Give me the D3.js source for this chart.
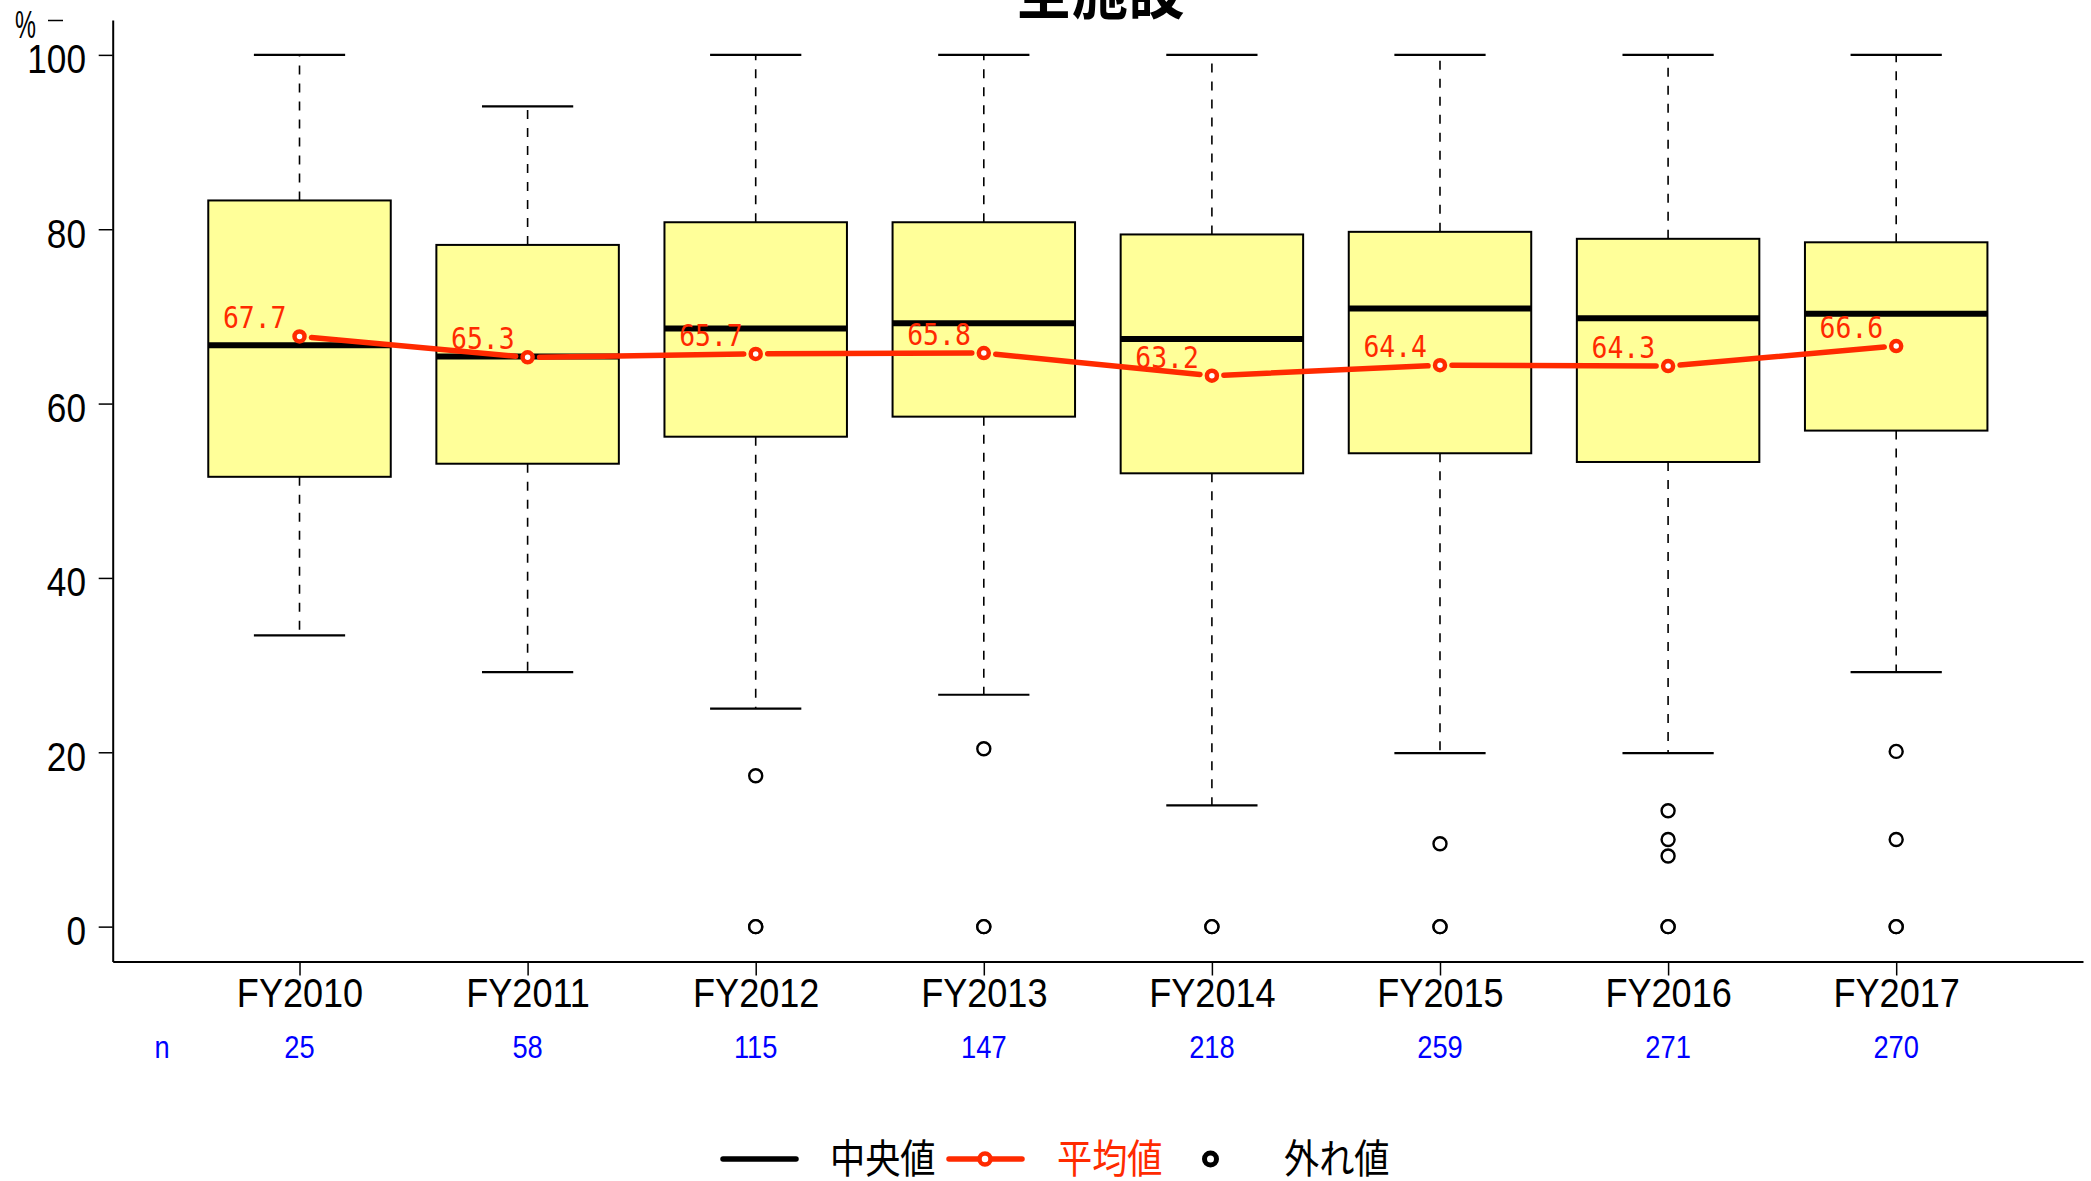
<!DOCTYPE html>
<html>
<head>
<meta charset="utf-8">
<script src="https://cdn.jsdelivr.net/npm/d3@7"></script>
<style>
  html, body { margin: 0; padding: 0; background: #fff; overflow: hidden; }
  svg { display: block; }
</style>
</head>
<body>
<svg id="chart" width="2091" height="1181"></svg>
<script>
// ---- data ----
const categories = ["FY2010", "FY2011", "FY2012", "FY2013", "FY2014", "FY2015", "FY2016", "FY2017"];
const whiskerHigh = [100, 94.1, 100, 100, 100, 100, 100, 100];
const q3Values = [83.3, 78.2, 80.8, 80.8, 79.4, 79.7, 78.9, 78.5];
const medians = [66.7, 65.4, 68.6, 69.2, 67.4, 70.9, 69.8, 70.3];
const q1Values = [51.6, 53.1, 56.2, 58.5, 52.0, 54.3, 53.3, 56.9];
const whiskerLow = [33.4, 29.2, 25.0, 26.6, 13.9, 19.9, 19.9, 29.2];
const means = [67.7, 65.3, 65.7, 65.8, 63.2, 64.4, 64.3, 66.6];
const counts = [25, 58, 115, 147, 218, 259, 271, 270];
const outliers = [[], [], [17.3, 0, 0], [20.4, 0, 0], [0, 0], [9.5, 0, 0], [13.3, 10.0, 8.1, 0, 0], [20.1, 10.0, 0, 0]];
const yTicks = [0, 20, 40, 60, 80, 100];
const title = "全施設";
const legendLabels = ["中央値", "平均値", "外れ値"];

// ---- styles ----
const SX = 0.88; // horizontal condensation of text
const RED = "#ff2a00";
const BOXFILL = "#ffff99";
const SANS = "'Liberation Sans', Arial, sans-serif";
const CJK = "'Noto Sans CJK JP', 'Noto Sans CJK SC', sans-serif";
const MONO = "'DejaVu Sans Mono', monospace";

const svg = d3.select("#chart");

const x = d3.scalePoint().domain(categories).range([112.7, 2083]).padding(0.819);
const y = d3.scaleLinear().domain([-4, 104]).range([961.5, 20]);
const step = x.step();
const boxW = step * 0.8;
const capW = boxW * 0.5;

function place(sel, px, py, sx = SX) {
  return sel.attr("transform", `translate(${px},${py}) scale(${sx},1)`);
}

// title (clipped at top)
place(svg.append("text"), 1100, 13)
  .attr("text-anchor", "middle")
  .attr("font-family", CJK).attr("font-weight", "bold").attr("font-size", 64)
  .attr("fill", "#000").text(title);

// y axis
const yAxis = d3.axisLeft(y).tickValues(yTicks).tickSize(14).tickSizeOuter(0).tickFormat(d3.format("d"));
const gy = svg.append("g").attr("transform", "translate(112.7,0)").call(yAxis);
gy.select(".domain").attr("stroke", "#000").attr("stroke-width", 2);
gy.selectAll(".tick line").attr("stroke", "#000").attr("stroke-width", 1.5);
gy.selectAll(".tick text")
  .attr("x", -26.7 / SX).attr("y", 18).attr("dy", null)
  .attr("transform", `scale(${SX},1)`)
  .attr("font-family", SANS).attr("font-size", 40).attr("fill", "#000");

// % unit label and small mark
place(svg.append("text"), 15, 38, 0.62)
  .attr("font-family", SANS).attr("font-size", 38).attr("fill", "#000").text("%");
svg.append("line").attr("x1", 48).attr("x2", 63).attr("y1", 20.5).attr("y2", 20.5)
  .attr("stroke", "#000").attr("stroke-width", 1.5);

// x axis
const xAxis = d3.axisBottom(x).tickSize(14).tickSizeOuter(0);
const gx = svg.append("g").attr("transform", `translate(0,${y(-4)})`).call(xAxis);
gx.select(".domain").attr("stroke", "#000").attr("stroke-width", 2);
gx.selectAll(".tick line").attr("stroke", "#000").attr("stroke-width", 1.5);
gx.selectAll(".tick text")
  .attr("y", 46).attr("dy", null)
  .attr("transform", `scale(${SX},1)`)
  .attr("font-family", SANS).attr("font-size", 41).attr("fill", "#000");

// n row
place(svg.append("text"), 162, 1058)
  .attr("text-anchor", "middle").attr("font-family", SANS).attr("font-size", 31)
  .attr("fill", "#0000ff").text("n");
categories.forEach((c, i) => {
  place(svg.append("text"), x(c), 1058)
    .attr("text-anchor", "middle").attr("font-family", SANS).attr("font-size", 31)
    .attr("fill", "#0000ff").text(counts[i]);
});

// boxplots
const gb = svg.append("g");
categories.forEach((c, i) => {
  const cx = x(c);
  // whiskers (dashed)
  gb.append("line").attr("x1", cx).attr("x2", cx).attr("y1", y(q3Values[i])).attr("y2", y(whiskerHigh[i]))
    .attr("stroke", "#000").attr("stroke-width", 1.6).attr("stroke-dasharray", "9,9");
  gb.append("line").attr("x1", cx).attr("x2", cx).attr("y1", y(q1Values[i])).attr("y2", y(whiskerLow[i]))
    .attr("stroke", "#000").attr("stroke-width", 1.6).attr("stroke-dasharray", "9,9");
  // caps
  [whiskerHigh[i], whiskerLow[i]].forEach(v => {
    gb.append("line").attr("x1", cx - capW / 2).attr("x2", cx + capW / 2).attr("y1", y(v)).attr("y2", y(v))
      .attr("stroke", "#000").attr("stroke-width", 2.2);
  });
  // box
  gb.append("rect").attr("x", cx - boxW / 2).attr("width", boxW)
    .attr("y", y(q3Values[i])).attr("height", y(q1Values[i]) - y(q3Values[i]))
    .attr("fill", BOXFILL).attr("stroke", "#000").attr("stroke-width", 2);
  // median
  gb.append("line").attr("x1", cx - boxW / 2).attr("x2", cx + boxW / 2)
    .attr("y1", y(medians[i])).attr("y2", y(medians[i]))
    .attr("stroke", "#000").attr("stroke-width", 6);
  // outliers
  outliers[i].forEach(v => {
    gb.append("circle").attr("cx", cx).attr("cy", y(v)).attr("r", 6.5)
      .attr("fill", "#fff").attr("stroke", "#000").attr("stroke-width", 2.4);
  });
});

// mean line (type "b": segments with gaps around points)
const gm = svg.append("g");
const gap = 12;
for (let i = 0; i < categories.length - 1; i++) {
  const x1 = x(categories[i]), y1 = y(means[i]);
  const x2 = x(categories[i + 1]), y2 = y(means[i + 1]);
  const len = Math.hypot(x2 - x1, y2 - y1);
  const ux = (x2 - x1) / len, uy = (y2 - y1) / len;
  gm.append("line")
    .attr("x1", x1 + ux * gap).attr("y1", y1 + uy * gap)
    .attr("x2", x2 - ux * gap).attr("y2", y2 - uy * gap)
    .attr("stroke", RED).attr("stroke-width", 5.5).attr("stroke-linecap", "round");
}
categories.forEach((c, i) => {
  gm.append("circle").attr("cx", x(c)).attr("cy", y(means[i])).attr("r", 5)
    .attr("fill", "#fff").attr("stroke", RED).attr("stroke-width", 4.5);
  place(gm.append("text"), x(c) - 13, y(means[i]) - 8)
    .attr("text-anchor", "end").attr("font-family", MONO).attr("font-size", 30)
    .attr("fill", RED).text(means[i].toFixed(1));
});

// legend
const gl = svg.append("g");
const ly = 1159;
gl.append("line").attr("x1", 723).attr("x2", 796).attr("y1", ly).attr("y2", ly)
  .attr("stroke", "#000").attr("stroke-width", 5.5).attr("stroke-linecap", "round");
place(gl.append("text"), 830, 1173).attr("font-family", CJK).attr("font-size", 40)
  .attr("fill", "#000").text(legendLabels[0]);
gl.append("line").attr("x1", 949).attr("x2", 1022).attr("y1", ly).attr("y2", ly)
  .attr("stroke", RED).attr("stroke-width", 5.5).attr("stroke-linecap", "round");
gl.append("circle").attr("cx", 985).attr("cy", ly).attr("r", 5.5)
  .attr("fill", "#fff").attr("stroke", RED).attr("stroke-width", 4.5);
place(gl.append("text"), 1057, 1173).attr("font-family", CJK).attr("font-size", 40)
  .attr("fill", RED).text(legendLabels[1]);
gl.append("circle").attr("cx", 1210.5).attr("cy", ly).attr("r", 6)
  .attr("fill", "#fff").attr("stroke", "#000").attr("stroke-width", 5);
place(gl.append("text"), 1284, 1173).attr("font-family", CJK).attr("font-size", 40)
  .attr("fill", "#000").text(legendLabels[2]);
</script>
</body>
</html>
